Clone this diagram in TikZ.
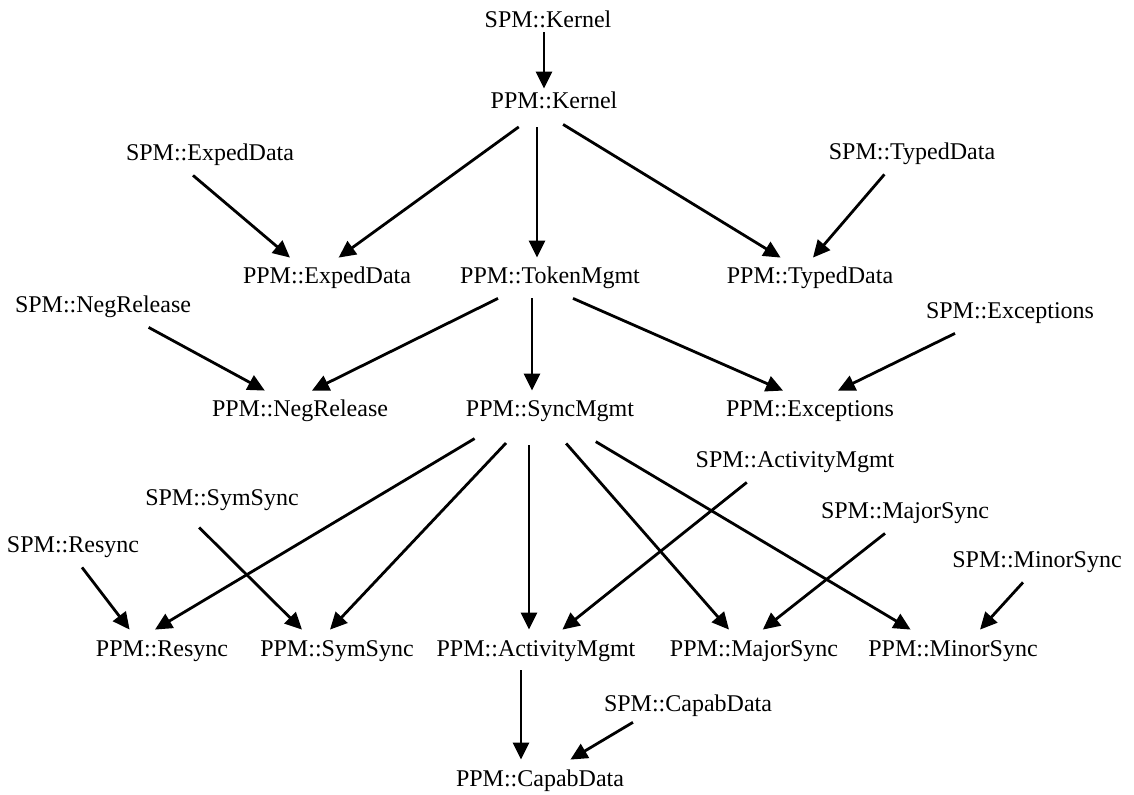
\documentclass[tikz,border=0pt]{standalone}
\usepackage{fontspec}
\setmainfont{Liberation Serif}
\usepackage{tikz}
\usetikzlibrary{arrows.meta}
\tikzstyle{module}=[anchor=base, inner xsep=0pt, inner ysep=5pt, text height=8pt, text depth=2pt, font=\fontsize{12pt}{14pt}\selectfont]
\tikzstyle{dep}=[-{Triangle[length=8.5pt,width=8pt]}, line width=1.4pt]

\begin{document}
\begin{tikzpicture}[x=0.5pt, y=-0.5pt]
\useasboundingbox (0,0) rectangle (1134,795);
\tikzstyle{every node}=[module];
\node (sk) at (548,28) {SPM::Kernel};
\node (pk) at (554,109) {PPM::Kernel};
\node (sed) at (210,161) {SPM::ExpedData}; \node (std) at (912,160) {SPM::TypedData};
\node (ped) at (327,284) {PPM::ExpedData}; \node (ptm) at (550,284) {PPM::TokenMgmt}; \node (ptd) at (810,284) {PPM::TypedData};
\node (snr) at (103,313) {SPM::NegRelease}; \node (sex) at (1010,319) {SPM::Exceptions};
\node (pnr) at (300,417) {PPM::NegRelease}; \node (psm) at (550,417) {PPM::SyncMgmt}; \node (pex) at (810,417) {PPM::Exceptions};
\node (sam) at (795,468) {SPM::ActivityMgmt};
\node (sss) at (222,506) {SPM::SymSync}; \node (smj) at (905,519) {SPM::MajorSync};
\node (srs) at (73,553) {SPM::Resync}; \node (smn) at (1037,568) {SPM::MinorSync};
\node (prs) at (162,656) {PPM::Resync}; \node (pss) at (337,656) {PPM::SymSync};
\node (pam) at (536,656) {PPM::ActivityMgmt};
\node (pmj) at (754,656) {PPM::MajorSync}; \node (pmn) at (953,656) {PPM::MinorSync};
\node (scd) at (688,711) {SPM::CapabData};
\node (pcd) at (540,786) {PPM::CapabData};
% kernel level
\draw [dep, shorten <=-5pt, shorten >=-3pt] ([xshift=-2pt]sk.south) -- ([xshift=-5pt]pk.north);
\draw [dep, shorten <=3pt] ([xshift=-15.2pt]pk.south) -- ([xshift=5.8pt]ped.north);
\draw [dep, shorten <=2pt] ([xshift=-8.5pt]pk.south) -- ([xshift=-6.5pt]ptm.north);
\draw [dep, shorten <=1pt] ([xshift=3.7pt]pk.south) -- ([xshift=-14.7pt]ptd.north);
\draw [dep] ([xshift=-8.5pt]sed.south) -- ([xshift=-18.5pt]ped.north);
\draw [dep] ([xshift=-13.8pt]std.south) -- ([xshift=1.5pt]ptd.north);
% token level
\draw [dep] ([xshift=-26pt]ptm.south) -- ([xshift=6pt]pnr.north);
\draw [dep] ([xshift=-9pt]ptm.south) -- ([xshift=-9pt]psm.north);
\draw [dep] ([xshift=11.5pt]ptm.south) -- ([xshift=-13.5pt]pex.north);
\draw [dep] ([xshift=22.8pt]snr.south) -- ([xshift=-17.6pt]pnr.north);
\draw [dep] ([xshift=-27.5pt]sex.south) -- ([xshift=14pt]pex.north);
% sync level
\draw [dep, shorten <=7pt] ([xshift=-31.7pt]psm.south) -- ([xshift=-3.5pt]prs.north);
\draw [dep, shorten <=8pt] ([xshift=-16.5pt]psm.south) -- ([xshift=-3.5pt]pss.north);
\draw [dep, shorten <=7pt] ([xshift=-10.5pt]psm.south) -- ([xshift=-3.5pt]pam.north);
\draw [dep, shorten <=8pt] ([xshift=2.8pt]psm.south) -- ([xshift=-12.5pt]pmj.north);
\draw [dep, shorten <=10pt] ([xshift=14.3pt]psm.south) -- ([xshift=-21.2pt]pmn.north);
\draw [dep, shorten <=5pt] ([xshift=-15pt]sss.south) -- ([xshift=-17.5pt]pss.north);
\draw [dep] ([xshift=4.5pt]srs.south) -- ([xshift=-16.2pt]prs.north);
\draw [dep] ([xshift=-24.1pt]sam.south) -- ([xshift=13.2pt]pam.north);
\draw [dep] ([xshift=-10pt]smj.south) -- ([xshift=4.4pt]pmj.north);
\draw [dep] ([xshift=-7pt]smn.south) -- ([xshift=13.5pt]pmn.north);
% capab
\draw [dep] ([xshift=-7.5pt]pam.south) -- ([xshift=-9.5pt]pcd.north);
\draw [dep, shorten <=-3pt] ([xshift=-30.1pt]scd.south) -- ([xshift=15.2pt]pcd.north);
\end{tikzpicture}
\end{document}
